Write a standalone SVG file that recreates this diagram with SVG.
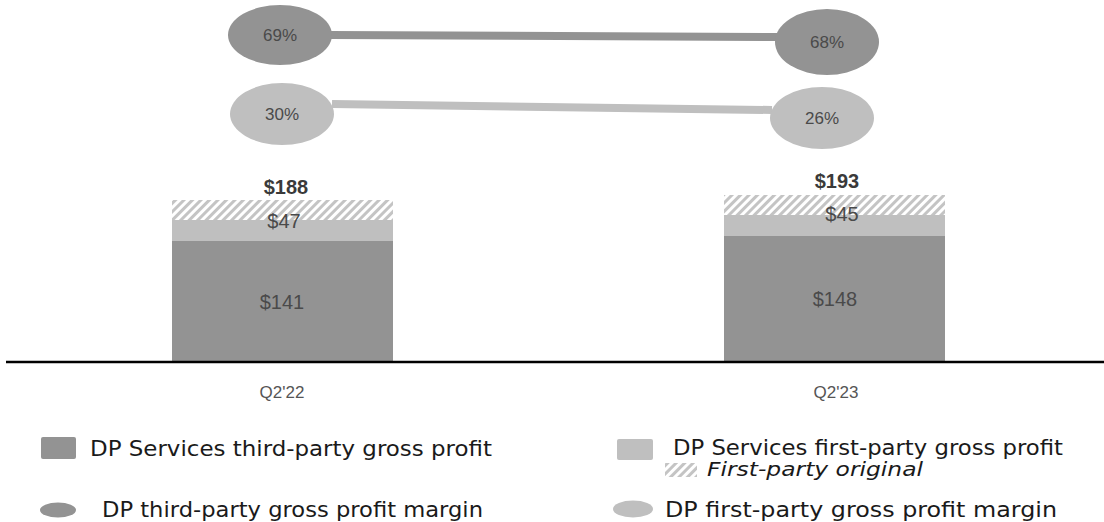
<svg xmlns="http://www.w3.org/2000/svg" width="1104" height="522" viewBox="0 0 1104 522">
<defs>
<pattern id="hatch" patternUnits="userSpaceOnUse" width="6" height="6" patternTransform="rotate(45)">
<rect width="6" height="6" fill="#ffffff"/>
<rect x="0" y="0" width="3" height="6" fill="#c4c4c4"/>
</pattern>
<style>
.dark{fill:#939393}
.light{fill:#bfbfbf}
.val{font-family:"Liberation Sans",Arial,sans-serif;font-size:20px;fill:#4a4a4a;text-anchor:middle}
.tot{font-family:"Liberation Sans",Arial,sans-serif;font-size:20px;font-weight:bold;fill:#3a3a3a;text-anchor:middle}
.pct{font-family:"Liberation Sans",Arial,sans-serif;font-size:17px;fill:#4a4a4a;text-anchor:middle}
.ax{font-family:"Liberation Sans",Arial,sans-serif;font-size:17px;fill:#555555;text-anchor:middle}
.leg{font-family:"DejaVu Sans",Verdana,sans-serif;font-size:21px;fill:#1a1a1a}
.legi{font-family:"DejaVu Sans",Verdana,sans-serif;font-size:19px;font-style:italic;fill:#1a1a1a}
</style>
</defs>
<rect width="1104" height="522" fill="#ffffff"/>

<g id="connectors">
<line x1="330" y1="35" x2="778" y2="37" stroke="#939393" stroke-width="8"/>
<line x1="332" y1="104" x2="772" y2="110" stroke="#bfbfbf" stroke-width="8"/>
</g>

<g id="bar-q222">
<rect x="172" y="200" width="221" height="20" fill="url(#hatch)"/>
<rect class="light" x="172" y="220" width="221" height="21"/>
<rect class="dark" x="172" y="241" width="221" height="121"/>
<text class="tot" x="286" y="194">$188</text>
<text class="val" x="284" y="228">$47</text>
<text class="val" x="282" y="309">$141</text>
</g>

<g id="bar-q223">
<rect x="724" y="195" width="221" height="20" fill="url(#hatch)"/>
<rect class="light" x="724" y="215" width="221" height="21"/>
<rect class="dark" x="724" y="236" width="221" height="126"/>
<text class="tot" x="837" y="188">$193</text>
<text class="val" x="842" y="221">$45</text>
<text class="val" x="835" y="306">$148</text>
</g>

<g id="axis">
<line x1="6" y1="362" x2="1104" y2="362" stroke="#000000" stroke-width="2.5"/>
<text class="ax" x="282" y="398">Q2'22</text>
<text class="ax" x="836" y="398">Q2'23</text>
</g>

<g id="m3-q222"><ellipse class="dark" cx="280" cy="35" rx="52" ry="30"/><text class="pct" x="280" y="41">69%</text></g>
<g id="m3-q223"><ellipse class="dark" cx="827" cy="42" rx="52" ry="33"/><text class="pct" x="827" y="48">68%</text></g>
<g id="m1-q222"><ellipse class="light" cx="282" cy="114" rx="52" ry="31"/><text class="pct" x="282" y="120">30%</text></g>
<g id="m1-q223"><ellipse class="light" cx="822" cy="118" rx="52" ry="31"/><text class="pct" x="822" y="124">26%</text></g>

<g id="legend">
<rect class="dark" x="41" y="437" width="35" height="22" rx="2"/>
<text class="leg" x="90" y="456" textLength="402" lengthAdjust="spacingAndGlyphs">DP Services third-party gross profit</text>
<rect class="light" x="617" y="439" width="36" height="21" rx="2"/>
<text class="leg" x="673" y="455" textLength="390" lengthAdjust="spacingAndGlyphs">DP Services first-party gross profit</text>
<rect x="665" y="463" width="32" height="14" fill="url(#hatch)"/>
<text class="legi" x="707" y="476" textLength="216" lengthAdjust="spacingAndGlyphs">First-party original</text>
<ellipse class="dark" cx="58" cy="510" rx="18" ry="7.5"/>
<text class="leg" x="102" y="517" textLength="381" lengthAdjust="spacingAndGlyphs">DP third-party gross profit margin</text>
<ellipse class="light" cx="633" cy="509" rx="20" ry="8.5"/>
<text class="leg" x="665" y="517" textLength="392" lengthAdjust="spacingAndGlyphs">DP first-party gross profit margin</text>
</g>
</svg>
